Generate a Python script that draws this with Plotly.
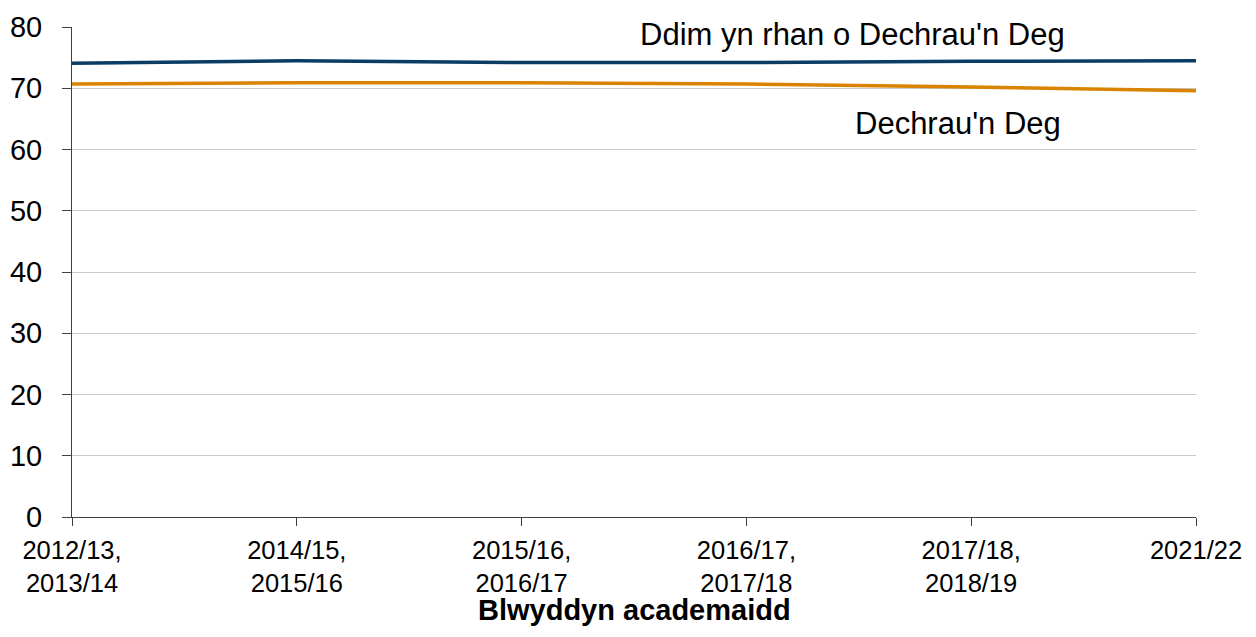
import plotly.graph_objects as go

categories = ["2012/13,<br>2013/14", "2014/15,<br>2015/16", "2015/16,<br>2016/17",
              "2016/17,<br>2017/18", "2017/18,<br>2018/19", "2021/22"]
not_flying_start = [74.1, 74.5, 74.2, 74.2, 74.4, 74.5]
flying_start = [70.7, 70.9, 70.9, 70.7, 70.2, 69.6]
y_ticks = [0, 10, 20, 30, 40, 50, 60, 70, 80]
x_title = "Blwyddyn academaidd"

BLUE = "#0b3c64"
ORANGE = "#da8300"
FONT = "Liberation Sans, Arial, sans-serif"

fig = go.Figure()
fig.add_trace(go.Scatter(x=categories, y=not_flying_start, mode="lines",
                         name="Ddim yn rhan o Dechrau'n Deg",
                         line=dict(color=BLUE, width=3.5)))
fig.add_trace(go.Scatter(x=categories, y=flying_start, mode="lines",
                         name="Dechrau'n Deg",
                         line=dict(color=ORANGE, width=3.5)))

fig.add_annotation(x=3.47, y=78.8, xref="x", yref="y", text="Ddim yn rhan o Dechrau'n Deg",
                   showarrow=False, yanchor="middle",
                   font=dict(family=FONT, size=31, color="black"))
fig.add_annotation(x=3.94, y=64.3, xref="x", yref="y", text="Dechrau'n Deg",
                   showarrow=False, yanchor="middle",
                   font=dict(family=FONT, size=31, color="black"))
# x-axis title
fig.add_annotation(x=0.5, y=-0.19, xref="paper", yref="paper", text="<b>" + x_title + "</b>",
                   showarrow=False, xanchor="center", yanchor="middle",
                   font=dict(family=FONT, size=29, color="black"))

fig.update_layout(
    width=1248, height=629,
    margin=dict(l=64, r=60, t=19, b=120),
    paper_bgcolor="white", plot_bgcolor="white",
    showlegend=False,
    font=dict(family=FONT, size=25, color="black"),
    xaxis=dict(type="category", range=[0, 5], showgrid=False, automargin=False,
               showline=True, linecolor="#404040", linewidth=1,
               ticks="outside", ticklen=8, tickcolor="#404040",
               tickfont=dict(size=25.5), ticklabelstandoff=2),
    yaxis=dict(range=[0, 80], tickvals=y_ticks, showgrid=True, gridcolor="#c8c8c8",
               gridwidth=1, zeroline=False, automargin=False,
               showline=True, linecolor="#404040", linewidth=1,
               ticks="outside", ticklen=9, tickcolor="#404040",
               tickfont=dict(size=29), ticklabelstandoff=14),
)

fig.write_html("out.html")
